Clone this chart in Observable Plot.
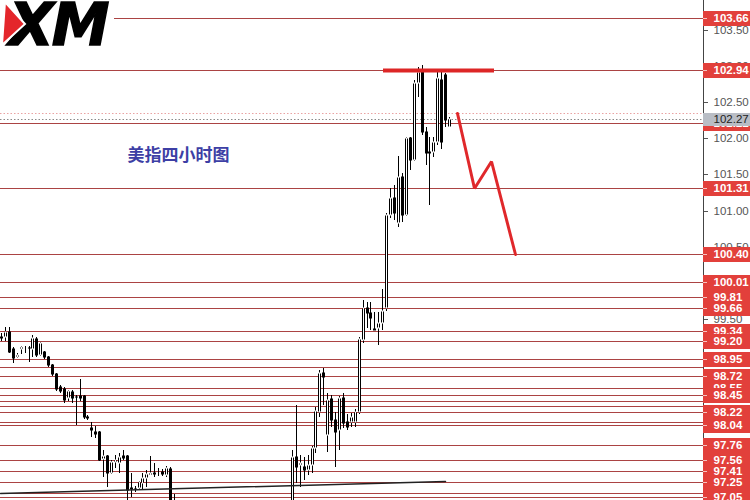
<!DOCTYPE html>
<html>
<head>
<meta charset="utf-8">
<script src="https://cdn.jsdelivr.net/npm/d3@7"></script>
<script src="https://cdn.jsdelivr.net/npm/@observablehq/plot@0.6"></script>
<style>
  html, body { margin: 0; padding: 0; background: #fff; }
  #wrap { position: relative; width: 750px; height: 500px; overflow: hidden; }
  #logo { position: absolute; left: 0; top: 0; width: 114px; height: 47px; background: #fff; }
</style>
</head>
<body>
<div id="wrap">
  <div id="chart"></div>
  <div id="logo">
    <svg width="114" height="47" viewBox="0 0 114 47">
      <text x="9" y="45" font-family="DejaVu Sans" font-weight="bold" font-style="italic" font-size="58" letter-spacing="-2" fill="#000" stroke="#000" stroke-width="1.5">XM</text>
      <polygon points="5,2 25,24 2,45" fill="#e4262b" stroke="#fff" stroke-width="2"/>
    </svg>
  </div>
</div>
<script>
// US Dollar Index, 4-hour candles (one entry per bar, oldest first)
const open = [
  99.26, 99.25, 99.32, 99.09, 98.98, 99.09, 99.11, 99.11, 99.09, 99.23,
  99.01, 99.05, 98.98, 98.87, 98.75, 98.57, 98.54, 98.41, 98.50, 98.43,
  98.44, 98.44, 98.15, 98.00, 97.95, 97.95, 97.57, 97.61, 97.38, 97.53,
  97.52, 97.61, 97.61, 97.17, 97.15, 97.17, 97.24, 97.31, 97.35, 97.38,
  97.37, 97.39, 97.35, 97.44, 96.92, 96.98, 96.90, 96.84, 96.88, 96.86,
  96.74, 96.70, 96.76, 96.72, 96.63, 96.68, 96.66, 96.58, 96.62, 96.67,
  96.70, 96.66, 96.69, 96.77, 96.73, 96.68, 96.74, 96.79, 96.76, 96.81,
  96.78, 96.83, 96.80, 96.86, 96.85, 97.60, 97.49, 97.46, 97.42, 97.49,
  97.72, 98.22, 98.76, 97.90, 98.40, 98.11, 97.97, 98.41, 98.08, 98.09,
  98.08, 98.22, 99.22, 99.66, 99.59, 99.37, 99.38, 99.45, 99.66, 100.94,
  101.18, 100.83, 101.46, 100.94, 102.00, 101.70, 102.76, 102.94, 102.09, 101.81,
  101.81, 101.95, 102.80, 102.87, 102.16
];
const high = [
  99.31, 99.39, 99.39, 99.12, 99.04, 99.13, 99.13, 99.13, 99.28, 99.25,
  99.19, 99.06, 99.00, 98.88, 98.76, 98.60, 98.56, 98.53, 98.53, 98.45,
  98.68, 98.45, 98.18, 98.08, 98.03, 97.96, 97.70, 97.63, 97.56, 97.63,
  97.66, 97.70, 97.63, 97.38, 97.20, 97.27, 97.38, 97.42, 97.61, 97.52,
  97.45, 97.43, 97.47, 97.46, 97.09, 96.99, 96.95, 96.92, 96.94, 96.90,
  96.80, 96.78, 96.82, 96.76, 96.70, 96.74, 96.72, 96.66, 96.70, 96.74,
  96.78, 96.72, 96.80, 96.84, 96.78, 96.76, 96.82, 96.88, 96.84, 96.90,
  96.86, 96.92, 96.88, 96.95, 97.70, 98.32, 97.63, 97.60, 97.63, 97.75,
  98.29, 98.80, 98.83, 98.48, 98.46, 98.22, 98.44, 98.48, 98.19, 98.21,
  98.26, 99.25, 99.77, 99.74, 99.74, 99.60, 99.60, 99.92, 100.97, 101.31,
  101.35, 101.75, 101.52, 102.02, 102.02, 102.80, 102.98, 103.01, 102.15, 102.02,
  102.02, 102.91, 102.91, 102.90, 102.29
];
const low = [
  99.20, 99.20, 99.04, 98.90, 98.96, 99.02, 99.04, 98.91, 98.98, 98.98,
  98.99, 98.95, 98.84, 98.72, 98.51, 98.48, 98.35, 98.38, 98.35, 98.04,
  98.38, 98.13, 98.11, 97.88, 97.86, 97.55, 97.33, 97.19, 97.36, 97.45,
  97.38, 97.56, 96.95, 97.05, 97.12, 97.14, 97.15, 97.19, 97.35, 97.33,
  97.34, 97.34, 97.33, 96.85, 96.86, 96.88, 96.80, 96.78, 96.82, 96.70,
  96.66, 96.64, 96.70, 96.60, 96.58, 96.62, 96.55, 96.52, 96.58, 96.62,
  96.64, 96.60, 96.66, 96.70, 96.64, 96.62, 96.70, 96.74, 96.70, 96.76,
  96.72, 96.78, 96.74, 96.80, 96.80, 97.24, 97.19, 97.28, 97.35, 97.38,
  97.65, 98.15, 98.32, 97.67, 98.01, 97.46, 97.70, 98.00, 97.97, 98.01,
  98.01, 98.20, 99.18, 99.38, 99.35, 99.35, 99.15, 99.35, 99.62, 100.90,
  100.87, 100.78, 100.84, 100.92, 101.56, 101.68, 102.57, 102.04, 101.63, 101.08,
  101.74, 101.91, 101.85, 102.15, 102.15
];
const close = [
  99.24, 99.32, 99.05, 98.97, 99.01, 99.12, 99.12, 99.10, 99.24, 99.01,
  99.17, 98.98, 98.87, 98.75, 98.54, 98.51, 98.39, 98.51, 98.42, 98.43,
  98.42, 98.15, 98.14, 97.98, 97.92, 97.56, 97.61, 97.38, 97.53, 97.56,
  97.60, 97.58, 97.14, 97.16, 97.17, 97.25, 97.31, 97.37, 97.38, 97.37,
  97.38, 97.36, 97.45, 96.90, 96.98, 96.90, 96.84, 96.88, 96.86, 96.74,
  96.70, 96.76, 96.72, 96.63, 96.68, 96.66, 96.58, 96.62, 96.67, 96.70,
  96.66, 96.69, 96.77, 96.73, 96.68, 96.74, 96.79, 96.76, 96.81, 96.78,
  96.83, 96.80, 96.86, 96.84, 97.60, 97.46, 97.52, 97.42, 97.49, 97.72,
  98.23, 98.76, 98.70, 98.39, 98.11, 97.94, 98.41, 98.07, 98.01, 98.15,
  98.22, 99.23, 99.66, 99.59, 99.52, 99.36, 99.45, 99.62, 100.94, 101.18,
  100.97, 101.46, 100.94, 102.00, 101.70, 102.76, 102.91, 102.09, 101.80, 101.80,
  101.95, 102.83, 101.95, 102.25, 102.27
];

// Support / resistance levels drawn across the chart
const levels = [103.66, 102.94, 102.21, 101.31, 100.40, 100.01, 99.81, 99.66, 99.34, 99.20,
  98.95, 98.84, 98.72, 98.55, 98.45, 98.37, 98.30, 98.22, 98.08, 98.04,
  97.76, 97.56, 97.41, 97.25, 97.11, 97.05];
// Levels tagged on the price scale (top to bottom; lower tags sit on top)
const levelTags = [103.66, 102.94, 102.21, 101.31, 100.40, 100.01, 99.81, 99.66, 99.34, 99.20,
  98.95, 98.72, 98.55, 98.45, 98.22, 98.04, 97.76, 97.56, 97.41, 97.25, 97.05];
const axisTicks = [103.5, 103.0, 102.5, 102.0, 101.5, 101.0, 100.5, 100.0, 99.5, 99.0, 98.5, 98.0, 97.5, 97.0];

const lastPrice = 102.27;
const askPrice = 102.35;

// Resistance top and projected path (bar index, price)
const topLineBars = [97.2, 125.4];
const topLinePrice = 102.94;
const pathBars = [116.1, 120.4, 124.6, 130.8];
const pathPrices = [102.35, 101.31, 101.68, 100.40];

// Rising trend line under the lows
const trendBars = [-0.25, 113];
const trendPrices = [97.105, 97.27];

const chartTitle = "美指四小时图";
const titleBar = 32;
const titlePrice = 101.77;

const X_END = 178.6;
const RED = "#e2403b";

const candles = open.map((o, i) => ({i, o, h: high[i], l: low[i], c: close[i]}));
const up = candles.filter(d => d.c >= d.o);
// hollow interior only where the body is tall enough to show one
const upInner = up.filter(d => d.c - d.o >= 0.03);
const path = pathBars.map((i, k) => ({i, p: pathPrices[k]}));
const trend = trendBars.map((i, k) => ({i, p: trendPrices[k]}));

const tagMarks = levelTags.flatMap(v => [
  Plot.ruleY([v], {x1: X_END, x2: X_END + 12, stroke: RED, strokeWidth: 15}),
  Plot.ruleY([v], {x1: X_END, x2: X_END + 1, stroke: "#f6c4c0"}),
  Plot.text([v], {y: d => d, text: d => d.toFixed(2), frameAnchor: "right", dx: 10, textAnchor: "start",
    fill: "#fff", fontWeight: "bold", fontSize: 11.5})
]);

const chart = Plot.plot({
  width: 750,
  height: 500,
  marginTop: 0,
  marginBottom: 0,
  marginLeft: 0,
  marginRight: 47,
  style: {background: "#fff", fontFamily: "Liberation Sans"},
  x: {domain: [-0.254, X_END], axis: null, round: true},
  y: {domain: [97.007, 103.908], round: true},
  marks: [
    Plot.ruleY(levels, {y: d => d, stroke: "#ab4343", strokeWidth: 1}),
    Plot.ruleY([askPrice], {stroke: "#e9a3a3", strokeDasharray: "1.5,2"}),
    Plot.ruleY([lastPrice], {stroke: "#8a8a8a", strokeDasharray: "1.5,2"}),
    // wicks
    Plot.ruleX(candles, {x: "i", y1: "l", y2: "h", stroke: "#000", clip: true}),
    // bodies: solid 3px bar, hollowed out for rising bars
    Plot.ruleX(candles, {x: "i", y1: "o", y2: "c", stroke: "#000", strokeWidth: 3,
      insetTop: -0.5, insetBottom: -0.5, clip: true}),
    Plot.ruleX(upInner, {x: "i", y1: "o", y2: "c", stroke: "#fff", strokeWidth: 1,
      insetTop: 0.5, insetBottom: 0.5, clip: true}),
    Plot.line(trend, {x: "i", y: "p", stroke: "#222", strokeWidth: 1.5}),
    Plot.ruleY([topLinePrice], {x1: topLineBars[0], x2: topLineBars[1], stroke: "#dd2626", strokeWidth: 4}),
    Plot.line(path, {x: "i", y: "p", stroke: "#e0282b", strokeWidth: 3, strokeLinejoin: "miter"}),
    Plot.text([chartTitle], {x: () => titleBar, y: () => titlePrice, text: d => d, textAnchor: "start",
      fontFamily: "Noto Sans CJK SC", fontSize: 17, fontWeight: "bold", fill: "#3d3fa5"}),
    Plot.ruleX([X_END], {stroke: "#444"}),
    Plot.axisY({anchor: "right", ticks: axisTicks, tickSize: 4, tickPadding: 6,
      tickFormat: d => d.toFixed(2), fontSize: 11.5, color: "#555", label: null}),
    ...tagMarks,
    Plot.ruleY([lastPrice], {x1: X_END, x2: X_END + 12, stroke: "#b9bdc5", strokeWidth: 13}),
    Plot.text([lastPrice], {y: d => d, text: d => d.toFixed(2), frameAnchor: "right", dx: 10,
      textAnchor: "start", fill: "#222", fontSize: 11.5})
  ]
});

document.getElementById("chart").appendChild(chart);
</script>
</body>
</html>
